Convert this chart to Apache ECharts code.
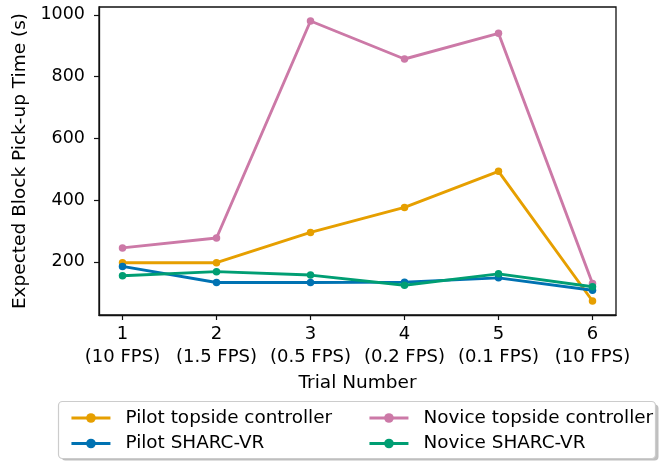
<!DOCTYPE html>
<html>
<head>
<meta charset="utf-8">
<script src="https://cdn.jsdelivr.net/npm/echarts@6/dist/echarts.min.js"></script>
<style>
  html, body { margin: 0; padding: 0; background: #fff; }
  #chart { width: 661px; height: 462px; }
</style>
</head>
<body>
<div id="chart"></div>
<script>
// Trials 1..6 and their frame rates
const trials = [1, 2, 3, 4, 5, 6];
const trialLabels = ['1\n(10 FPS)', '2\n(1.5 FPS)', '3\n(0.5 FPS)', '4\n(0.2 FPS)', '5\n(0.1 FPS)', '6\n(10 FPS)'];
const yTicks = [200, 400, 600, 800, 1000];

// Expected block pick-up time (s) per trial
const pilotTopside = [197, 197, 295, 376, 493, 73];
const pilotSharc = [185, 133, 133, 134, 148, 108];
const noviceTopside = [245, 277, 980, 857, 940, 130];
const noviceSharc = [155, 168, 157, 124, 161, 119];

const FONT = 'DejaVu Sans';

function pairs(vals) {
  return trials.map((t, i) => [t, vals[i]]);
}

function lineSeries(name, color, vals) {
  return {
    name: name,
    type: 'line',
    data: pairs(vals),
    symbol: 'circle',
    symbolSize: 7.5,
    itemStyle: { color: color },
    lineStyle: { color: color, width: 2.9 },
    emphasis: { disabled: true },
    animation: false
  };
}

const chart = echarts.init(document.getElementById('chart'), null, { renderer: 'canvas' });

const legendText = { fontFamily: FONT, fontSize: 18.4, color: '#000', padding: [0, 0, 0, 10] };
const legendLine = { width: 2.9 };

chart.setOption({
  backgroundColor: '#fff',
  animation: false,
  grid: {
    left: 99, right: 45, top: 7, bottom: 147,
    show: true, borderColor: '#111', borderWidth: 1.3, backgroundColor: 'transparent'
  },
  xAxis: {
    type: 'value',
    min: 0.75, max: 6.25,
    name: 'Trial Number',
    nameLocation: 'middle',
    nameGap: 59,
    nameTextStyle: { fontFamily: FONT, fontSize: 18.5, color: '#000' },
    axisLine: { show: true, lineStyle: { color: '#111', width: 1.3 } },
    axisTick: { show: true, length: 5, lineStyle: { color: '#111', width: 1.2 }, customValues: trials },
    axisLabel: {
      customValues: trials,
      margin: 8,
      fontFamily: FONT, fontSize: 18, color: '#000', lineHeight: 23,
      formatter: v => trialLabels[trials.indexOf(v)]
    },
    splitLine: { show: false }
  },
  yAxis: {
    type: 'value',
    min: 27.65, max: 1025.4,
    name: 'Expected Block Pick-up Time (s)',
    nameLocation: 'middle',
    nameGap: 63,
    nameTextStyle: { fontFamily: FONT, fontSize: 18.5, color: '#000' },
    axisLine: { show: true, lineStyle: { color: '#111', width: 1.3 } },
    axisTick: { show: true, length: 5, lineStyle: { color: '#111', width: 1.2 }, customValues: yTicks },
    axisLabel: {
      customValues: yTicks,
      margin: 14,
      fontFamily: FONT, fontSize: 17.5, color: '#000',
      formatter: v => String(v)
    },
    splitLine: { show: false }
  },
  legend: [
    {
      orient: 'vertical', left: 65, top: 404,
      itemWidth: 39, itemHeight: 12, itemGap: 7.5,
      data: ['Pilot topside controller', 'Pilot SHARC-VR'],
      textStyle: legendText,
      lineStyle: legendLine,
      selectedMode: false
    },
    {
      orient: 'vertical', left: 363, top: 404,
      itemWidth: 39, itemHeight: 12, itemGap: 7.5,
      data: ['Novice topside controller', 'Novice SHARC-VR'],
      textStyle: legendText,
      lineStyle: legendLine,
      selectedMode: false
    }
  ],
  graphic: [
    {
      type: 'rect', z: -2, silent: true,
      shape: { x: 61.5, y: 404.5, width: 597, height: 56, r: 4 },
      style: { fill: 'rgba(0,0,0,0.25)' }
    },
    {
      type: 'rect', z: -1, silent: true,
      shape: { x: 58.5, y: 401.5, width: 597, height: 57, r: 4 },
      style: { fill: '#fff', stroke: '#ccc', lineWidth: 1.2 }
    }
  ],
  series: [
    lineSeries('Pilot topside controller', '#E69F00', pilotTopside),
    lineSeries('Pilot SHARC-VR', '#0072B2', pilotSharc),
    lineSeries('Novice topside controller', '#CC79A7', noviceTopside),
    lineSeries('Novice SHARC-VR', '#009E73', noviceSharc)
  ]
});
</script>
</body>
</html>
